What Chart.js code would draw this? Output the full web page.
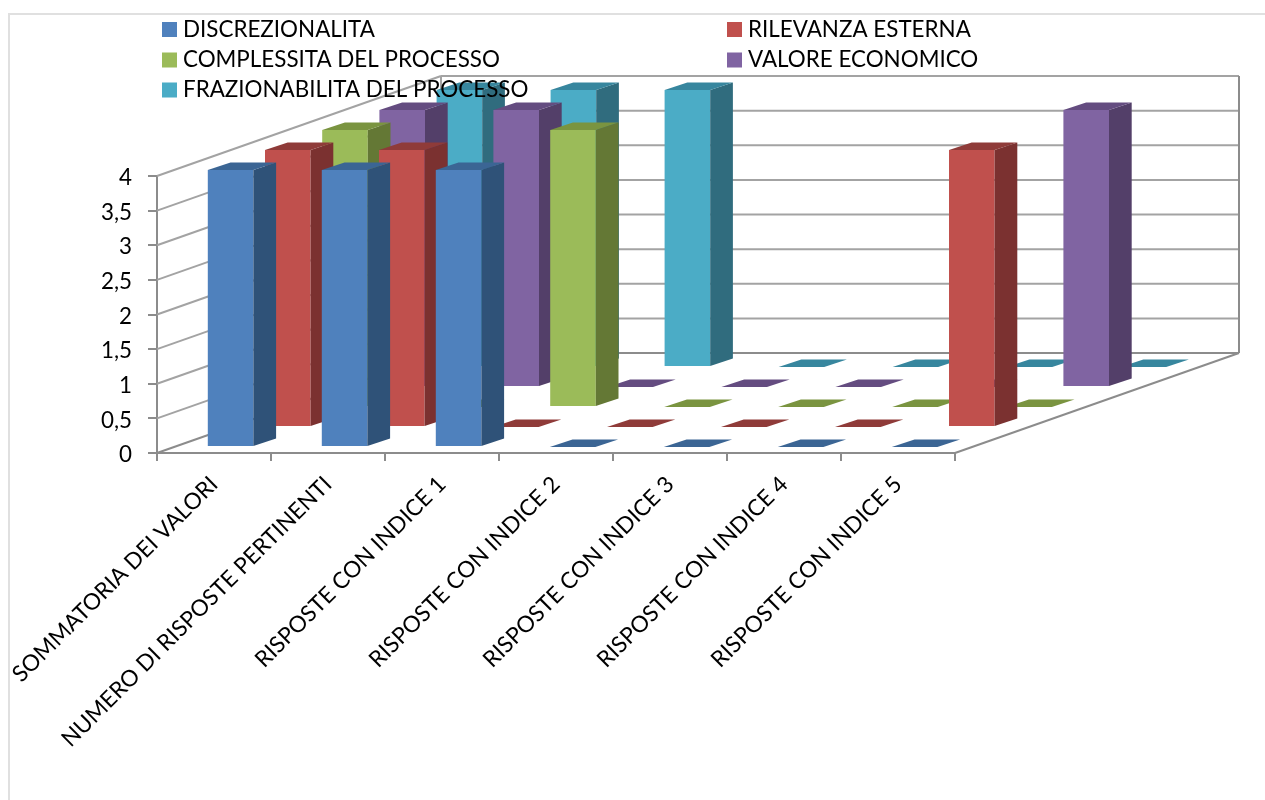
<!DOCTYPE html>
<html>
<head>
<meta charset="utf-8">
<title>Grafico indici</title>
<script src="https://cdn.jsdelivr.net/npm/chart.js@4"></script>
<style>
    html, body { margin: 0; padding: 0; background: #fff; overflow: hidden; }
    #frame { position: absolute; left: 8px; top: 13px; width: 1257px; height: 787px; border-left: 2px solid #e0e0e0; border-top: 2px solid #e0e0e0; box-sizing: border-box; }
    #chart { position: absolute; left: 0; top: 0; }
</style>
</head>
<body>
<div id="frame"></div>
<canvas id="chart" width="1265" height="800"></canvas>
<script>
const categories = ['SOMMATORIA DEI VALORI', 'NUMERO DI RISPOSTE PERTINENTI', 'RISPOSTE CON INDICE 1', 'RISPOSTE CON INDICE 2', 'RISPOSTE CON INDICE 3', 'RISPOSTE CON INDICE 4', 'RISPOSTE CON INDICE 5'];
const yTickLabels = ['0', '0,5', '1', '1,5', '2', '2,5', '3', '3,5', '4'];

const discrezionalita = [4, 4, 4, 0, 0, 0, 0];
const rilevanzaEsterna = [4, 4, 0, 0, 0, 0, 4];
const complessita = [4, 0, 4, 0, 0, 0, 0];
const valoreEconomico = [4, 4, 0, 0, 0, 0, 4];
const frazionabilita = [4, 4, 4, 0, 0, 0, 0];

// front, side and top colour of each series
const palette = [
    ['#4F81BD', '#2F5278', '#3B6594'],
    ['#C0504D', '#7B3130', '#8F3B39'],
    ['#9BBB59', '#647835', '#7A9440'],
    ['#8064A2', '#533F69', '#644C80'],
    ['#4BACC6', '#306C7E', '#37869E']
];

// 3D look
const wallDx = 284, wallDy = -100;     // depth of the whole floor
const rowDx = 57.2, rowDy = -20;       // step from one series to the one behind
const startDx = 16.6, startDy = -6;    // first row inside the floor
const barDx = 22.7, barDy = -7.6;      // depth of one bar
const axisColor = '#8c8c8c', gridColor = '#a3a3a3';
const labelFont = '22.4px Lato';

function line(ctx, x1, y1, x2, y2, color, width) {
    ctx.beginPath();
    ctx.moveTo(x1, y1);
    ctx.lineTo(x2, y2);
    ctx.strokeStyle = color;
    ctx.lineWidth = width;
    ctx.stroke();
}

function poly(ctx, pts, color) {
    ctx.beginPath();
    pts.forEach((p, i) => i ? ctx.lineTo(p[0], p[1]) : ctx.moveTo(p[0], p[1]));
    ctx.closePath();
    ctx.fillStyle = color;
    ctx.fill();
}

const walls3d = {
    id: 'walls3d',
    beforeDatasetsDraw(chart) {
        const ctx = chart.ctx, area = chart.chartArea, y = chart.scales.y;
        const backL = area.left + wallDx, backR = area.right + wallDx;
        ctx.save();
        y.ticks.forEach(t => {
            const py = y.getPixelForValue(t.value);
            const color = t.value === 0 ? axisColor : gridColor;
            line(ctx, area.left, py, backL, py + wallDy, color, 2);
            line(ctx, backL, py + wallDy, backR, py + wallDy, color, 2);
        });
        line(ctx, backL, area.top + wallDy, backL, area.bottom + wallDy, gridColor, 2);
        line(ctx, backR, area.top + wallDy, backR, area.bottom + wallDy, axisColor, 2);
        line(ctx, area.right, area.bottom, backR, area.bottom + wallDy, axisColor, 2);
        ctx.restore();
    },
    beforeDatasetDraw(chart, args) {
        const i = args.index;
        chart.ctx.save();
        chart.ctx.translate(startDx + rowDx * i, startDy + rowDy * i);
    },
    afterDatasetDraw(chart, args) {
        const ctx = chart.ctx, colors = palette[args.index];
        args.meta.data.forEach(bar => {
            const p = bar.getProps(['x', 'y', 'base', 'width'], true);
            const l = p.x - p.width / 2, r = p.x + p.width / 2;
            if (p.base - p.y > 0) {
                poly(ctx, [[r, p.y], [r + barDx, p.y + barDy], [r + barDx, p.base + barDy], [r, p.base]], colors[1]);
            }
            poly(ctx, [[l, p.y], [r, p.y], [r + barDx, p.y + barDy], [l + barDx, p.y + barDy]], colors[2]);
        });
        ctx.restore();
    }
};

// legend sits over the plot, two columns like the original
const legend2col = {
    id: 'legend2col',
    afterDraw(chart) {
        const ctx = chart.ctx;
        const colX = [162, 727], rowY = [29.5, 60, 90];
        ctx.save();
        ctx.font = labelFont;
        ctx.textBaseline = 'middle';
        ctx.textAlign = 'left';
        chart.data.datasets.forEach((ds, i) => {
            const x = colX[i % 2], y = rowY[Math.floor(i / 2)];
            ctx.fillStyle = ds.backgroundColor;
            ctx.fillRect(x, y - 7.5, 15, 15);
            ctx.fillStyle = '#000';
            ctx.fillText(ds.label, x + 21, y);
        });
        ctx.restore();
    }
};

function makeSet(label, values, i) {
    return { label: label, data: values, backgroundColor: palette[i][0], borderColor: palette[i][0], clip: false };
}

new Chart(document.getElementById('chart').getContext('2d'), {
    type: 'bar',
    plugins: [walls3d, legend2col],
    data: {
        labels: categories,
        datasets: [
            makeSet('DISCREZIONALITA', discrezionalita, 0),
            makeSet('RILEVANZA ESTERNA', rilevanzaEsterna, 1),
            makeSet('COMPLESSITA DEL PROCESSO', complessita, 2),
            makeSet('VALORE ECONOMICO', valoreEconomico, 3),
            makeSet('FRAZIONABILITA DEL PROCESSO', frazionabilita, 4)
        ]
    },
    options: {
        responsive: false,
        animation: false,
        devicePixelRatio: 1,
        layout: { padding: { left: 0, top: 176, right: 310, bottom: 0 } },
        plugins: { legend: { display: false }, title: { display: false }, tooltip: { enabled: false } },
        datasets: { bar: { grouped: false, categoryPercentage: 1, barPercentage: 0.4 } },
        scales: {
            x: {
                offset: true,
                grid: { drawOnChartArea: false, drawTicks: true, tickLength: 8, color: axisColor, lineWidth: 2 },
                border: { color: axisColor, width: 2 },
                ticks: { autoSkip: false, minRotation: 45, maxRotation: 45, color: '#000', font: { family: 'Lato', size: 22.6 }, padding: 10 },
                afterFit(s) { s.height = 347; s.paddingLeft = 0; s.paddingRight = 0; }
            },
            y: {
                min: 0,
                max: 4,
                grid: { drawOnChartArea: false, drawTicks: true, tickLength: 9, color: axisColor, lineWidth: 2 },
                border: { color: axisColor, width: 2 },
                ticks: {
                    stepSize: 0.5,
                    color: '#000',
                    font: { family: 'Lato', size: 22.4 },
                    padding: 16,
                    labelOffset: 2,
                    callback: (value, index) => yTickLabels[index]
                },
                afterFit(s) { s.width = 157; }
            }
        }
    }
});
</script>
</body>
</html>
